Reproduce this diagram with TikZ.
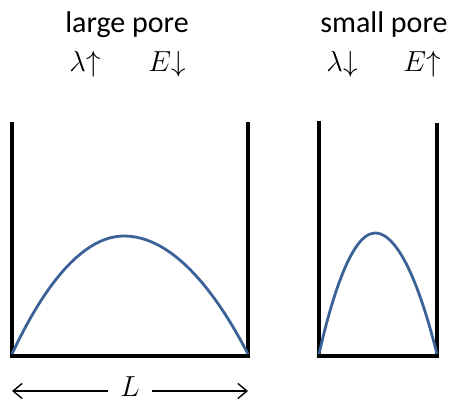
\documentclass[tikz,border=0pt]{standalone}
\usepackage{fix-cm}
\usepackage{fontspec}
\setmainfont{Carlito}
\usepackage{tikz}
\usetikzlibrary{arrows.meta,positioning}
\definecolor{poreink}{HTML}{000000}
\definecolor{poreblue}{HTML}{3B6296}
\tikzset{
  wall/.style={line width=4pt, color=poreink},
  prof/.style={line width=2.8pt, color=poreblue},
  ttl/.style={anchor=base, inner sep=0pt, font=\fontsize{30}{36}\selectfont},
  sym/.style={anchor=base, inner sep=0pt, font=\fontsize{29}{34}\selectfont},
  dimarr/.style={-{Straight Barb[length=9pt, width=15pt]}, line width=1.4pt},
}
\begin{document}
\begin{tikzpicture}[x=1pt, y=1pt]
    \useasboundingbox (0,0) rectangle (456,403);
    % large pore
    \draw[wall] (12,281) -- (12,47) -- (248,47) -- (248,281);
    \draw[prof] (12,49) parabola bend (124,167) (248,49);
    \node[ttl] (tlarge) at (127,370) {large pore};
    \node[sym] (lamA) at (85,331) {$\lambda{\uparrow}$};
    \node[sym] (enA) at (167,331) {$E{\downarrow}$};
    % small pore
    \draw[wall] (319,282) -- (319,47) -- (437,47) -- (437,280);
    \draw[prof] (319,49) parabola bend (375,170) (437,49);
    \node[ttl] (tsmall) at (384,370) {small pore};
    \node[sym] (lamB) at (342,331) {$\lambda{\downarrow}$};
    \node[sym] (enB) at (422,331) {$E{\uparrow}$};
    % width
    \node[sym] (len) at (130,6) {$L$};
    \coordinate (lenL) at (12,12);
    \coordinate (lenR) at (248,12);
    \draw[dimarr] (len.west |- lenL) ++(-12,0) -- (lenL);
    \draw[dimarr] (len.east |- lenR) ++(12,0) -- (lenR);
  \end{tikzpicture}
\end{document}
